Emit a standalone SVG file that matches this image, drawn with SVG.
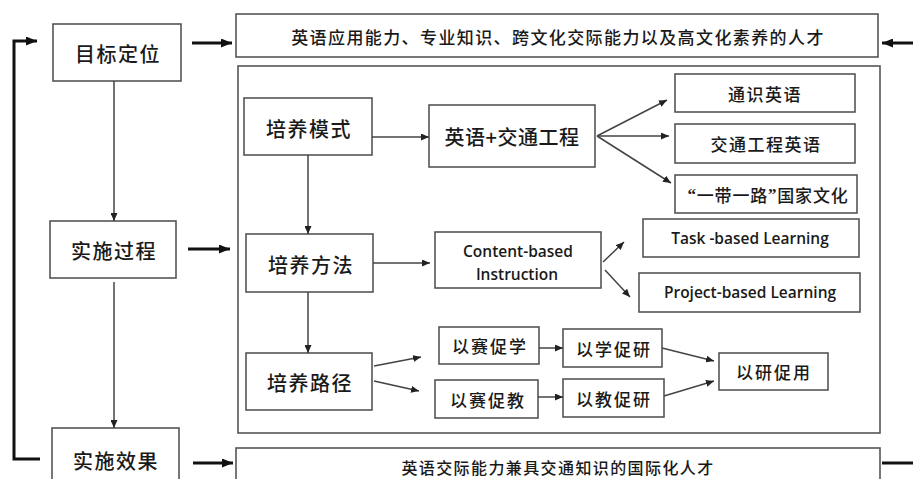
<svg xmlns="http://www.w3.org/2000/svg" width="913" height="479" viewBox="0 0 913 479">
<defs>
<marker id="ah" markerUnits="userSpaceOnUse" markerWidth="8" markerHeight="7" refX="8" refY="3.5" orient="auto"><path d="M0,0 L8,3.5 L0,7 z" fill="#222"/></marker>
<marker id="ahb" markerUnits="userSpaceOnUse" markerWidth="11" markerHeight="9" refX="11" refY="4.5" orient="auto"><path d="M0,0 L11,4.5 L0,9 z" fill="#111"/></marker>
</defs>
<style>
rect{fill:#fff;stroke:#555;stroke-width:1.6}
text{font-family:"Noto Sans CJK SC","Liberation Serif",sans-serif;font-weight:500;fill:#1a1a1a;text-anchor:middle;dominant-baseline:central}
.l{font-size:20px;letter-spacing:1.5px}
.m{font-size:17px;letter-spacing:1.5px}
.e{font-family:"Open Sans","Noto Sans",sans-serif;font-weight:600;font-size:15.5px;letter-spacing:0}
.q{font-family:"Liberation Serif",serif;font-weight:700}
.thin{fill:none;stroke:#444;stroke-width:1.5;marker-end:url(#ah)}
.thick{fill:none;stroke:#111;stroke-width:3;marker-end:url(#ahb)}
.thickn{fill:none;stroke:#111;stroke-width:3}
</style>
<rect x="-5" y="-5" width="923" height="489" style="fill:#fff;stroke:none"/>
<g id="frame-inner"><rect x="238" y="66" width="642" height="367"/></g>
<g id="goal"><rect x="53" y="24" width="128" height="57"/><text class="l" x="118" y="53">目标定位</text></g>
<g id="process"><rect x="50" y="221" width="126" height="57"/><text class="l" x="114" y="250">实施过程</text></g>
<g id="effect"><rect x="52" y="428" width="127" height="62"/><text class="l" x="116" y="460">实施效果</text></g>
<g id="goal-text"><rect x="236" y="14" width="642" height="43"/><text style="font-size:17px;letter-spacing:1.4px" x="558" y="36">英语应用能力、专业知识、跨文化交际能力以及高文化素养的人才</text></g>
<g id="effect-text"><rect x="236" y="448" width="644" height="42"/><text style="font-size:16px;letter-spacing:1.4px" x="558" y="467">英语交际能力兼具交通知识的国际化人才</text></g>
<g id="mode"><rect x="244" y="98" width="128" height="57"/><text class="l" x="309" y="128">培养模式</text></g>
<g id="method"><rect x="246" y="234" width="127" height="58"/><text class="l" x="311" y="264">培养方法</text></g>
<g id="path"><rect x="246" y="353" width="126" height="57"/><text class="l" x="310" y="382">培养路径</text></g>
<g id="eng-traffic"><rect x="429" y="105" width="166" height="62"/><text class="l" style="letter-spacing:0.5px" x="512" y="136">英语+交通工程</text></g>
<g id="general-eng"><rect x="675" y="74" width="180" height="38"/><text class="m" x="765" y="93">通识英语</text></g>
<g id="traffic-eng"><rect x="675" y="124" width="180" height="39"/><text class="m" x="766" y="143.5">交通工程英语</text></g>
<g id="belt-road"><rect x="675" y="175" width="182" height="38"/><text class="m" style="letter-spacing:0.8px" x="768" y="194"><tspan class="q">“</tspan>一带一路<tspan class="q">”</tspan>国家文化</text></g>
<g id="cbi"><rect x="435" y="232" width="166" height="56"/><text class="e" x="518" y="251">Content-based</text><text class="e" x="517" y="274">Instruction</text></g>
<g id="tbl"><rect x="643" y="219" width="216" height="38"/><text class="e" x="750" y="238">Task -based Learning</text></g>
<g id="pbl"><rect x="639" y="273" width="221" height="39"/><text class="e" x="750" y="292">Project-based Learning</text></g>
<g id="c1"><rect x="439" y="327" width="100" height="37"/><text class="m" style="letter-spacing:2px" x="490" y="345.5">以赛促学</text></g>
<g id="c2"><rect x="563" y="329" width="99" height="38"/><text class="m" style="letter-spacing:2px" x="614" y="348">以学促研</text></g>
<g id="c3"><rect x="435" y="380" width="103" height="38"/><text class="m" style="letter-spacing:2px" x="488" y="399">以赛促教</text></g>
<g id="c4"><rect x="563" y="379" width="101" height="38"/><text class="m" style="letter-spacing:2px" x="614" y="398">以教促研</text></g>
<g id="c5"><rect x="719" y="353" width="109" height="37"/><text class="m" style="letter-spacing:2px" x="774" y="371.5">以研促用</text></g>
<g id="connectors">
<path class="thick" d="M192,43 H232"/>
<path class="thick" d="M188,249 H230"/>
<path class="thick" d="M193,463 H233"/>
<path class="thick" d="M913,43 H882"/>
<path class="thickn" d="M882,463 H913"/>
<path class="thick" d="M40,459 H14 V41 H37"/>
<path class="thin" d="M114,81 V221"/>
<path class="thin" d="M114,282 V428"/>
<path class="thin" d="M308,155 V234"/>
<path class="thin" d="M308,292 V353"/>
<path class="thin" d="M372,137 H429"/>
<path class="thin" d="M373,263 H430"/>
<path class="thin" d="M597,136 L667,100"/>
<path class="thin" d="M597,136 H669"/>
<path class="thin" d="M597,136 L671,183"/>
<path class="thin" d="M603,262 L624,242"/>
<path class="thin" d="M605,270 L630,297"/>
<path class="thin" d="M374,366 L421,357"/>
<path class="thin" d="M374,381 L419,391"/>
<path class="thin" d="M539,348 H563"/>
<path class="thin" d="M538,397 H563"/>
<path class="thin" d="M662,348 L714,361"/>
<path class="thin" d="M664,396 L714,381"/>
</g>
</svg>
